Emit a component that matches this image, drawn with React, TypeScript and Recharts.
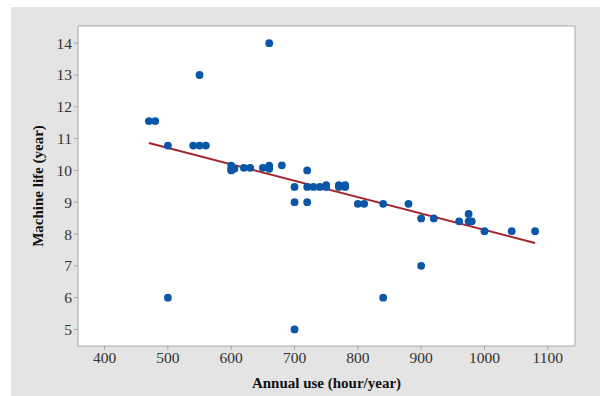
import {
  ScatterChart,
  Scatter,
  XAxis,
  YAxis,
  CartesianGrid,
  ReferenceArea,
} from 'recharts';

const annualUse = [
  470, 480, 500, 500, 540, 550, 550, 560, 600, 600, 600, 605, 620, 630, 650, 660,
  660, 660, 680, 700, 700, 700, 720, 720, 720, 730, 740, 750, 750, 770, 770, 780,
  780, 800, 810, 840, 840, 880, 900, 900, 920, 960, 975, 975, 980, 1000, 1043, 1080,
];
const machineLife = [
  11.55, 11.55, 10.78, 6, 10.78, 10.78, 13, 10.78, 10.15, 10.0, 10.05, 10.05, 10.08,
  10.08, 10.08, 10.15, 10.05, 14, 10.16, 9.48, 9.0, 5, 10.0, 9.48, 9.0, 9.48, 9.48,
  9.54, 9.48, 9.54, 9.48, 9.54, 9.48, 8.95, 8.95, 8.95, 6, 8.95, 8.49, 7, 8.49, 8.4,
  8.63, 8.4, 8.4, 8.09, 8.09, 8.09,
];

// fitted line end points
const fitX = [470, 1080];
const fitY = [10.86, 7.72];

const xTicks = [400, 500, 600, 700, 800, 900, 1000, 1100];
const yTicks = [5, 6, 7, 8, 9, 10, 11, 12, 13, 14];

const X_DOMAIN = [358, 1143];
const Y_DOMAIN = [4.48, 14.54];

const points = annualUse.map((x, i) => ({ x, y: machineLife[i] }));
const fitLine = fitX.map((x, i) => ({ x, y: fitY[i] }));

const FONT = '"Liberation Serif", serif';
const DOT = '#0a56a8';
const FIT = '#a4262c';

const tickStyle = { fill: '#333', fontSize: 15.5, fontFamily: FONT };

function Dot(props: any) {
  return <circle cx={props.cx} cy={props.cy} r={3.9} fill={DOT} />;
}

export default function App() {
  return (
    <div style={{ position: 'absolute', left: 0, top: 0, width: 600, height: 396, background: '#fff' }}>
      <div style={{ position: 'absolute', left: 11, top: 7, width: 589, height: 389, background: '#e4e4e4' }} />
      <div style={{ position: 'absolute', left: 0, top: 0 }}>
        <ScatterChart width={600} height={396} margin={{ top: 26, right: 25, left: 0, bottom: 0 }}>
          <CartesianGrid horizontal={false} vertical={false} fill="#fff" />
          <XAxis
            type="number"
            dataKey="x"
            domain={X_DOMAIN}
            ticks={xTicks}
            allowDataOverflow
            height={50}
            axisLine={false}
            tickLine={{ stroke: '#a8a8a8' }}
            tickSize={4}
            tick={tickStyle}
            label={{
              content: ({ viewBox }: any) => (
                <text
                  x={viewBox.x + viewBox.width / 2}
                  y={383}
                  textAnchor="middle"
                  dominantBaseline="central"
                  fontFamily={FONT}
                  fontWeight="bold"
                  fontSize={15}
                  fill="#111"
                >
                  Annual use (hour/year)
                </text>
              ),
            }}
          />
          <YAxis
            type="number"
            dataKey="y"
            domain={Y_DOMAIN}
            ticks={yTicks}
            allowDataOverflow
            width={78}
            axisLine={false}
            tickLine={{ stroke: '#a8a8a8' }}
            tickSize={4}
            tick={tickStyle}
            label={{
              content: ({ viewBox }: any) => {
                const cx = 38;
                const cy = viewBox.y + viewBox.height / 2;
                return (
                  <text
                    x={cx}
                    y={cy}
                    transform={`rotate(-90, ${cx}, ${cy})`}
                    textAnchor="middle"
                    dominantBaseline="central"
                    fontFamily={FONT}
                    fontWeight="bold"
                    fontSize={15}
                    fill="#111"
                  >
                    Machine life (year)
                  </text>
                );
              },
            }}
          />
          <ReferenceArea
            x1={X_DOMAIN[0]}
            x2={X_DOMAIN[1]}
            y1={Y_DOMAIN[0]}
            y2={Y_DOMAIN[1]}
            fill="none"
            stroke="#a8a8a8"
            strokeWidth={1}
          />
          <Scatter
            data={fitLine}
            line={{ stroke: FIT, strokeWidth: 2 }}
            shape={() => null}
            isAnimationActive={false}
          />
          <Scatter data={points} shape={Dot} isAnimationActive={false} />
        </ScatterChart>
      </div>
    </div>
  );
}
